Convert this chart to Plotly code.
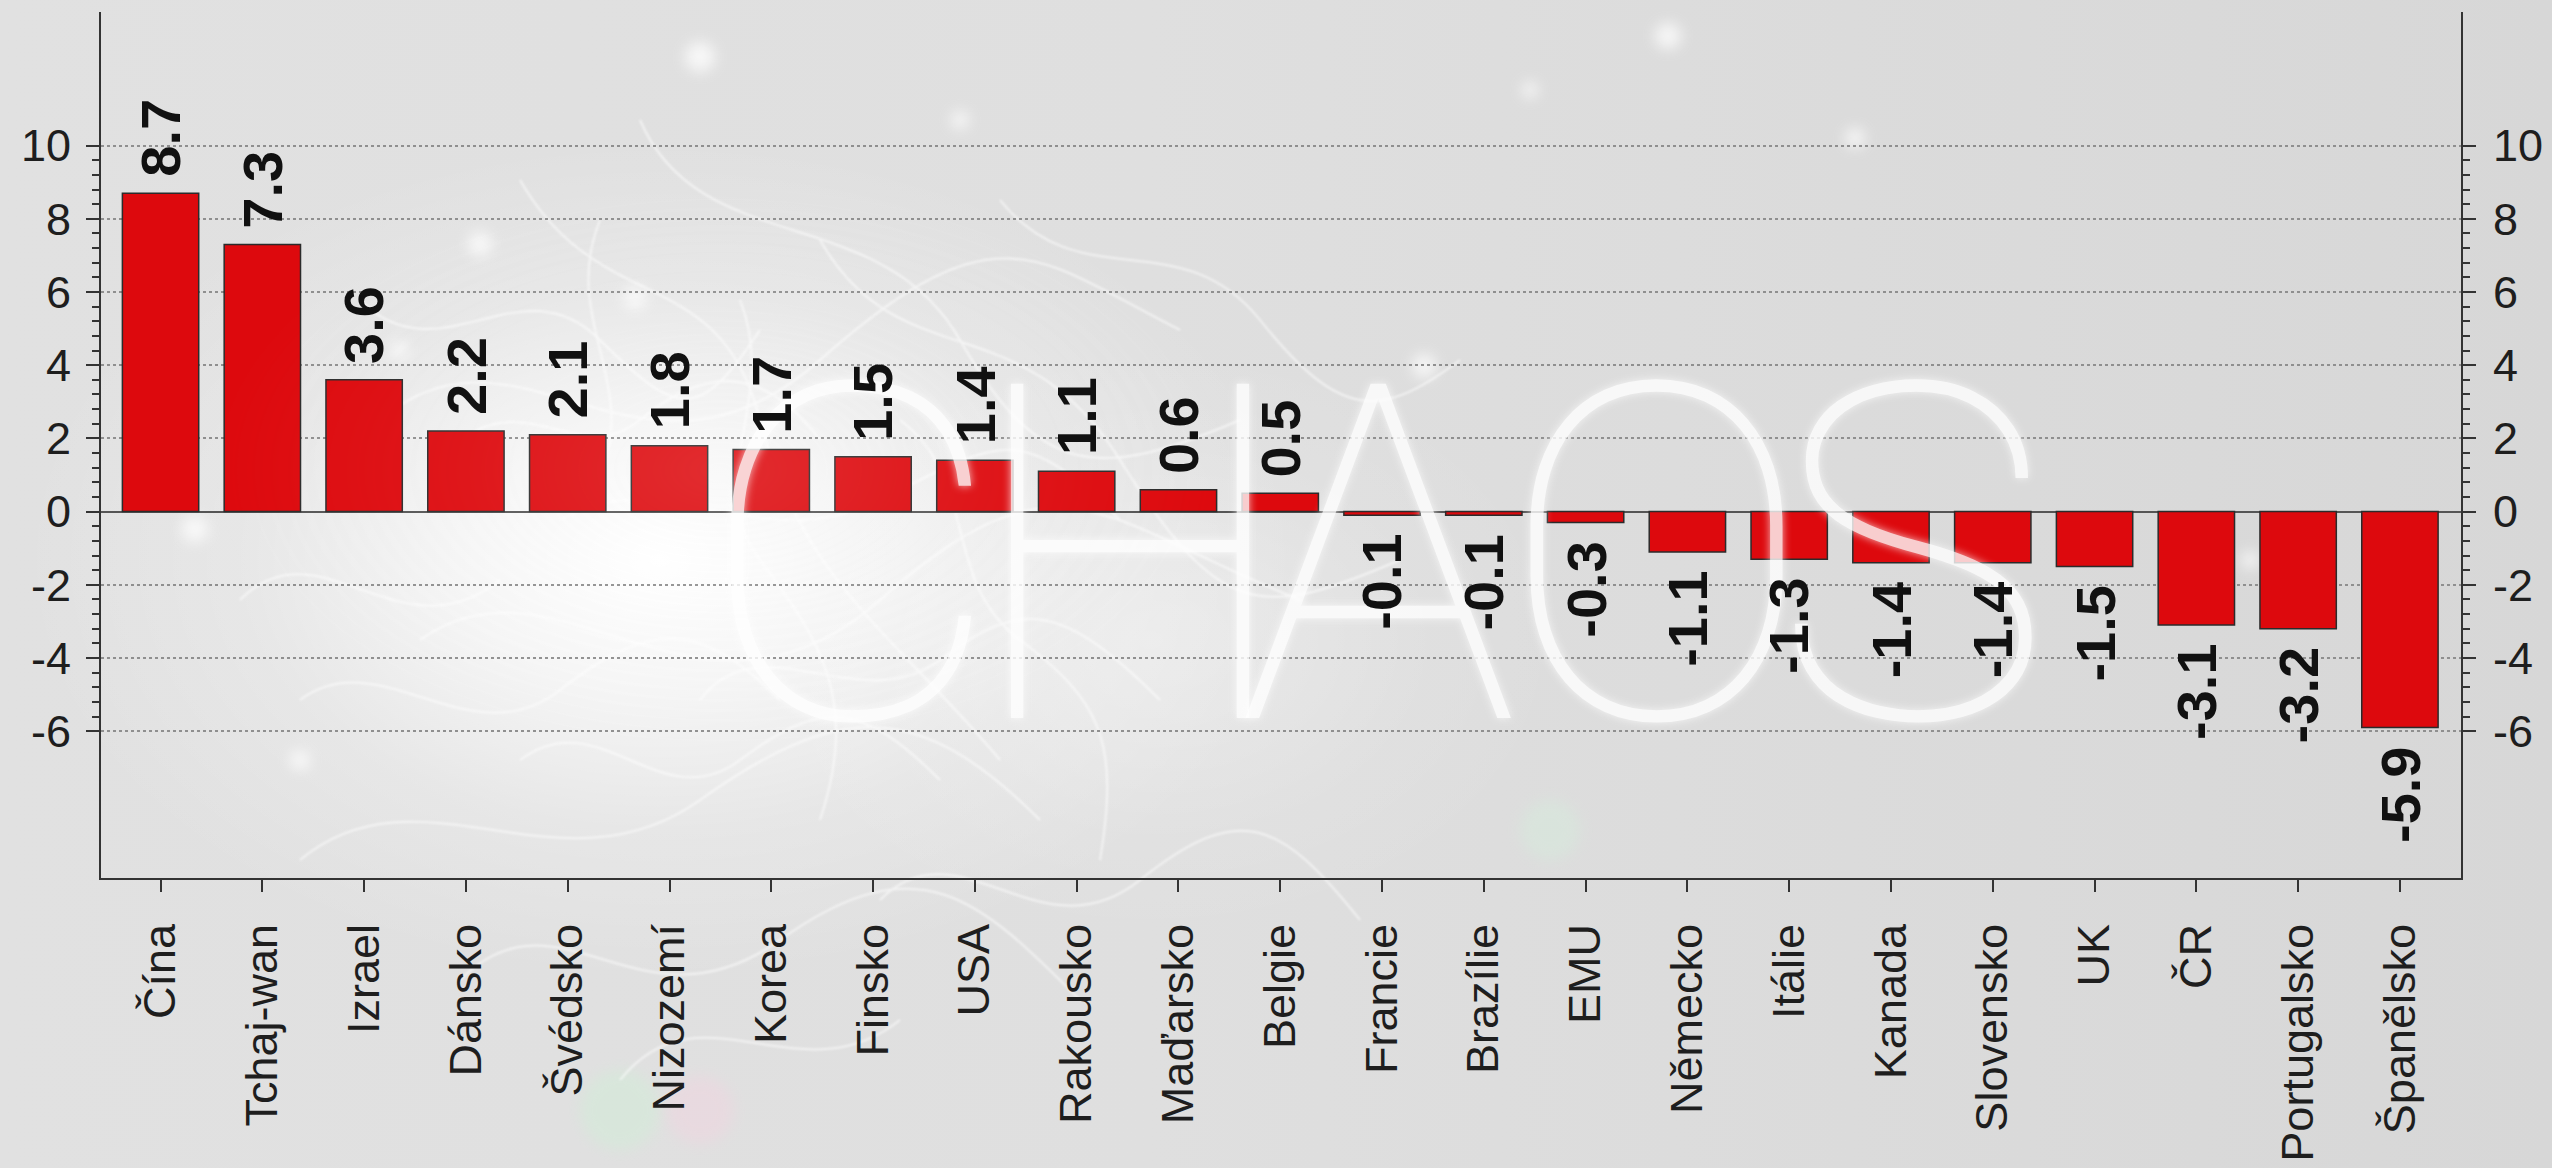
import base64
import plotly.graph_objects as go

# Year-on-year change by country (%)
countries = ["Čína", "Tchaj-wan", "Izrael", "Dánsko", "Švédsko", "Nizozemí", "Korea",
             "Finsko", "USA", "Rakousko", "Maďarsko", "Belgie", "Francie", "Brazílie",
             "EMU", "Německo", "Itálie", "Kanada", "Slovensko", "UK", "ČR",
             "Portugalsko", "Španělsko"]
values = [8.7, 7.3, 3.6, 2.2, 2.1, 1.8, 1.7, 1.5, 1.4, 1.1, 0.6, 0.5, -0.1, -0.1,
          -0.3, -1.1, -1.3, -1.4, -1.4, -1.5, -3.1, -3.2, -5.9]

y_tick_vals = [-6, -4, -2, 0, 2, 4, 6, 8, 10]
y_tick_text = ["-6", "-4", "-2", "0", "2", "4", "6", "8", "10"]
y_minor_vals = [round(-6 + 0.4 * i, 1) for i in range(41) if i % 5 != 0]

W, H = 2552, 1168
M_L, M_R, M_T, M_B = 101, 91, 12, 290
PW, PH = W - M_L - M_R, H - M_T - M_B

AXIS_COL = "#333333"
BAR_COL = "#DD090D"

# ---- decorative backdrop (soft glow, bokeh dots, light filaments) ----
bokeh = [(700, 57, 15), (480, 244, 12), (635, 298, 11), (195, 529, 13), (399, 350, 9),
         (1668, 36, 13), (1855, 138, 10), (1424, 366, 12), (960, 120, 9), (1530, 90, 8),
         (300, 760, 10), (2250, 560, 9)]
filaments = [
    "M 380 420 C 520 300, 640 520, 820 360 S 1040 260, 1180 330",
    "M 420 640 C 560 540, 700 760, 880 600 S 1100 520, 1300 600",
    "M 520 180 C 600 320, 720 260, 760 420 S 900 640, 1000 760",
    "M 640 120 C 700 260, 880 200, 960 340 S 1100 480, 1240 420",
    "M 300 860 C 420 760, 560 900, 700 800 S 920 700, 1040 820",
    "M 460 980 C 560 880, 640 1040, 780 940 S 980 900, 1080 1000",
    "M 820 240 C 900 380, 1020 300, 1120 460 S 1260 620, 1400 560",
    "M 560 520 C 660 460, 760 560, 880 500 S 1020 420, 1120 520",
    "M 700 700 C 760 620, 860 720, 940 660 S 1060 600, 1160 700",
    "M 360 300 C 440 380, 520 260, 600 340 S 700 420, 760 330",
    "M 880 900 C 960 820, 1040 960, 1140 880 S 1280 820, 1360 920",
    "M 1000 200 C 1080 300, 1180 220, 1260 320 S 1380 420, 1460 360",
    "M 620 1080 C 700 980, 800 1100, 900 1020",
    "M 240 600 C 320 520, 400 660, 500 580",
    "M 450 450 C 520 380, 580 470, 640 420 S 760 360, 820 440",
    "M 300 700 C 380 640, 470 760, 560 690 S 700 620, 780 700",
    "M 740 300 C 780 400, 700 480, 760 560 S 860 700, 820 820",
    "M 900 420 C 980 480, 940 580, 1020 640 S 1120 740, 1100 860",
    "M 520 760 C 600 700, 660 820, 740 760 S 860 700, 940 780",
    "M 600 220 C 560 320, 640 380, 600 480",
]
svg_parts = [
    f'<svg xmlns="http://www.w3.org/2000/svg" width="{W}" height="{H}" viewBox="0 0 {W} {H}">',
    '<defs>',
    '<linearGradient id="bg" x1="0" y1="0" x2="1" y2="0">'
    '<stop offset="0" stop-color="#E1E1E1"/><stop offset="0.45" stop-color="#DFDFDF"/>'
    '<stop offset="1" stop-color="#D7D7D7"/></linearGradient>',
    '<radialGradient id="glow" cx="0.5" cy="0.5" r="0.5">'
    '<stop offset="0" stop-color="#FFFFFF" stop-opacity="1"/>'
    '<stop offset="0.3" stop-color="#FFFFFF" stop-opacity="0.7"/>'
    '<stop offset="0.65" stop-color="#FFFFFF" stop-opacity="0.22"/>'
    '<stop offset="1" stop-color="#FFFFFF" stop-opacity="0"/></radialGradient>',
    '<filter id="soft" x="-1" y="-1" width="3" height="3"><feGaussianBlur stdDeviation="7"/></filter>',
    '<filter id="fine" x="-0.2" y="-0.2" width="1.4" height="1.4"><feGaussianBlur stdDeviation="1.2"/></filter>',
    '</defs>',
    f'<rect width="{W}" height="{H}" fill="url(#bg)"/>',
    '<ellipse cx="660" cy="560" rx="640" ry="420" fill="url(#glow)"/>',
    '<ellipse cx="1150" cy="640" rx="420" ry="300" fill="url(#glow)" opacity="0.35"/>',
    '<g filter="url(#soft)" fill="#FFFFFF" opacity="0.75">',
]
svg_parts += [f'<circle cx="{x}" cy="{y}" r="{r}"/>' for x, y, r in bokeh]
svg_parts += ['</g>',
              '<circle cx="620" cy="1110" r="40" fill="#CFEFD6" opacity="0.45" filter="url(#soft)"/>',
              '<circle cx="700" cy="1110" r="34" fill="#F3D3E0" opacity="0.45" filter="url(#soft)"/>',
              '<circle cx="1550" cy="830" r="30" fill="#D4EFDC" opacity="0.4" filter="url(#soft)"/>',
              '<g filter="url(#fine)" fill="none" stroke="#FFFFFF" stroke-width="2" opacity="0.6">']
svg_parts += [f'<path d="{d}"/>' for d in filaments]
svg_parts += ['</g></svg>']
backdrop_svg = "".join(svg_parts)

overlay_svg = (
    f'<svg xmlns="http://www.w3.org/2000/svg" width="{W}" height="{H}" viewBox="0 0 {W} {H}">'
    '<defs><radialGradient id="g" cx="0.5" cy="0.5" r="0.5">'
    '<stop offset="0" stop-color="#FFFFFF" stop-opacity="1"/>'
    '<stop offset="0.5" stop-color="#FFFFFF" stop-opacity="0.4"/>'
    '<stop offset="1" stop-color="#FFFFFF" stop-opacity="0"/></radialGradient></defs>'
    '<ellipse cx="720" cy="470" rx="520" ry="300" fill="url(#g)"/></svg>'
)


def svg_uri(s):
    return "data:image/svg+xml;base64," + base64.b64encode(s.encode("utf-8")).decode("ascii")


full_page = dict(xref="paper", yref="paper", x=-M_L / PW, y=1 + M_T / PH,
                 sizex=W / PW, sizey=H / PH, sizing="stretch",
                 xanchor="left", yanchor="top")

fig = go.Figure()

fig.add_trace(go.Bar(
    x=countries, y=values, width=0.75,
    marker=dict(color=BAR_COL, line=dict(color="#2B2B2B", width=1.5)),
    hoverinfo="x+y", showlegend=False,
))
# companion trace that carries the right-hand value axis
fig.add_trace(go.Scatter(
    x=countries, y=values, yaxis="y2", mode="markers",
    marker=dict(opacity=0), hoverinfo="skip", showlegend=False,
))

annotations = []
# watermark lettering
for ch, px in zip("CHAOS", [850, 1130, 1378, 1656, 1912]):
    annotations.append(dict(
        text=ch, xref="paper", yref="paper",
        x=(px - M_L) / PW, y=(M_T + PH - 557) / PH,
        xanchor="center", yanchor="middle", showarrow=False,
        font=dict(family="Roboto, Lato, Inter", size=470, weight=100, color="#FFFFFF",
                  shadow="0px 0px 8px rgba(255,255,255,0.9)"),
        opacity=0.8,
    ))

# value labels
for c, v in zip(countries, values):
    annotations.append(dict(
        text=f"{v:.1f}", x=c, y=v, xref="x", yref="y",
        textangle=-90, showarrow=False,
        yanchor="bottom" if v >= 0 else "top",
        yshift=14 if v >= 0 else -16,
        font=dict(family="Liberation Sans Narrow, Arial Narrow, Liberation Sans, Arial",
                  size=56, weight="bold", color="#111111"),
    ))

axis_common = dict(
    range=[-10.01, 13.65], tickmode="array", tickvals=y_tick_vals, ticktext=y_tick_text,
    ticks="outside", ticklen=13, tickwidth=2, tickcolor=AXIS_COL,
    showline=True, linecolor=AXIS_COL, linewidth=2,
    tickfont=dict(family="Liberation Sans, Arial", size=45, color="#1E1E1E"),
    minor=dict(tickmode="array", tickvals=y_minor_vals, ticks="outside",
               ticklen=7, tickwidth=2, tickcolor=AXIS_COL, showgrid=False),
    fixedrange=True,
)

fig.update_layout(
    width=W, height=H,
    margin=dict(l=M_L, r=M_R, t=M_T, b=M_B, autoexpand=False),
    paper_bgcolor="#DDDDDD", plot_bgcolor="rgba(0,0,0,0)",
    bargap=0.25,
    xaxis=dict(
        range=[-0.585, 22.6], tickangle=-90,
        ticks="outside", ticklen=12, tickwidth=2, tickcolor=AXIS_COL,
        showline=True, linecolor=AXIS_COL, linewidth=2, mirror=False,
        showgrid=False, zeroline=False, ticklabelstandoff=14,
        tickfont=dict(family="Liberation Sans, Arial", size=45, color="#1E1E1E"),
        fixedrange=True,
    ),
    yaxis=dict(
        **axis_common, side="left", ticklabelstandoff=6,
        showgrid=True, gridcolor="#8F8F8F", gridwidth=1.5, griddash="dot",
        zeroline=True, zerolinecolor="#555555", zerolinewidth=2,
    ),
    yaxis2=dict(
        **axis_common, side="right", overlaying="y", anchor="x", ticklabelstandoff=8,
        showgrid=False, zeroline=False,
    ),
    images=[
        dict(source=svg_uri(backdrop_svg), layer="below", **full_page),
        dict(source=svg_uri(overlay_svg), layer="above", opacity=0.14, **full_page),
    ],
    annotations=annotations,
)

fig.write_html("out.html")
